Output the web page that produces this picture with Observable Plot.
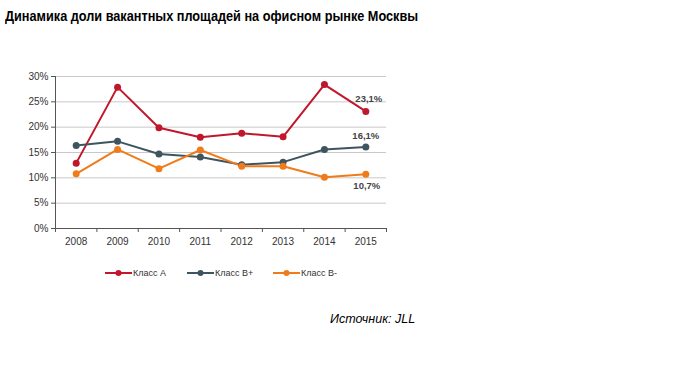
<!DOCTYPE html>
<html><head><meta charset="utf-8">
<script src="https://cdn.jsdelivr.net/npm/d3@7"></script>
<script src="https://cdn.jsdelivr.net/npm/@observablehq/plot@0.6"></script>
<style>
body{margin:0;background:#fff;width:680px;height:384px;overflow:hidden;font-family:"Liberation Sans",Arial,sans-serif;}
#wrap{position:relative;width:680px;height:384px;}
#title{position:absolute;left:5px;top:8px;font-weight:bold;font-size:14px;color:#000;white-space:nowrap;transform:scaleX(0.907);transform-origin:0 0;}
#chart{position:absolute;left:0;top:60px;}
#legend{position:absolute;left:0;top:268px;font-size:9px;color:#333;width:680px;height:14px;}
#legend .it{position:absolute;top:0;display:flex;align-items:center;white-space:nowrap;}
#source{position:absolute;left:330px;top:312px;font-style:italic;font-size:12.5px;color:#000;}
</style></head>
<body><div id="wrap">
<div id="title">Динамика доли вакантных площадей на офисном рынке Москвы</div>
<div id="chart"></div>
<div id="legend"></div>
<div id="source">Источник: JLL</div>
</div>
<script>
const years = [2008, 2009, 2010, 2011, 2012, 2013, 2014, 2015];
const classA  = [12.9, 27.9, 19.9, 18.0, 18.8, 18.1, 28.4, 23.1];
const classBp = [16.4, 17.2, 14.7, 14.1, 12.6, 13.1, 15.6, 16.1];
const classBm = [10.8, 15.6, 11.8, 15.5, 12.3, 12.3, 10.1, 10.7];
const seriesNames = ["Класс А", "Класс В+", "Класс В-"];
const colors = ["#c0172c", "#3e5560", "#f07b1b"];
const yTicks = [0, 5, 10, 15, 20, 25, 30];
const endLabels = ["23,1%", "16,1%", "10,7%"];

const all = [classA, classBp, classBm];
const data = [];
all.forEach((vals, s) => vals.forEach((v, i) => data.push({year: years[i], value: v, series: seriesNames[s]})));
const last = data.filter(d => d.year === years[years.length - 1]);
const boundaries = [...years.map(y => y - 0.5), years[years.length - 1] + 0.5];

const plot = Plot.plot({
  width: 680, height: 200,
  marginLeft: 55, marginRight: 294, marginTop: 16, marginBottom: 32,
  style: {fontFamily: "'Liberation Sans', Arial, sans-serif", fontSize: "10px", color: "#333", background: "transparent"},
  x: {domain: [boundaries[0], boundaries[boundaries.length - 1]], label: null},
  y: {domain: [0, 30], label: null},
  color: {domain: seriesNames, range: colors},
  marks: [
    Plot.gridY(yTicks.slice(1), {stroke: "#c8c8c8", strokeOpacity: 1, strokeWidth: 1}),
    Plot.ruleY([0], {stroke: "#555"}),
    Plot.ruleX([boundaries[0]], {y1: 0, y2: 30, stroke: "#555"}),
    Plot.axisY(yTicks, {tickSize: 4, tickPadding: 3, tickFormat: d => d + "%", stroke: "#555", fill: "#333", fontSize: 10, label: null}),
    Plot.axisX(boundaries, {tickSize: 4, tickFormat: () => "", stroke: "#555", label: null}),
    Plot.axisX(years, {tickSize: 0, tickPadding: 9, tickFormat: d => String(d), fill: "#333", fontSize: 10, label: null}),
    Plot.line(data, {x: "year", y: "value", stroke: "series", z: "series", strokeWidth: 2}),
    Plot.dot(data, {x: "year", y: "value", fill: "series", r: 3.5}),
    Plot.text([last[0]], {x: "year", y: "value", text: () => endLabels[0], dy: -13, dx: 3, fontWeight: "bold", fill: "#444", fontSize: 9.5}),
    Plot.text([last[1]], {x: "year", y: "value", text: () => endLabels[1], dy: -11, dx: 0, fontWeight: "bold", fill: "#444", fontSize: 9.5}),
    Plot.text([last[2]], {x: "year", y: "value", text: () => endLabels[2], dy: 12, dx: 1, fontWeight: "bold", fill: "#444", fontSize: 9.5})
  ]
});
document.getElementById("chart").appendChild(plot);

const leg = document.getElementById("legend");
const lefts = [105, 187, 273];
seriesNames.forEach((n, i) => {
  const it = document.createElement("div");
  it.className = "it";
  it.style.left = lefts[i] + "px";
  it.innerHTML = `<svg width="27" height="10"><line x1="0" y1="5" x2="27" y2="5" stroke="${colors[i]}" stroke-width="2"/><circle cx="13.5" cy="5" r="3" fill="${colors[i]}"/></svg><span style="margin-left:1px">${n}</span>`;
  leg.appendChild(it);
});
</script>
</body></html>
